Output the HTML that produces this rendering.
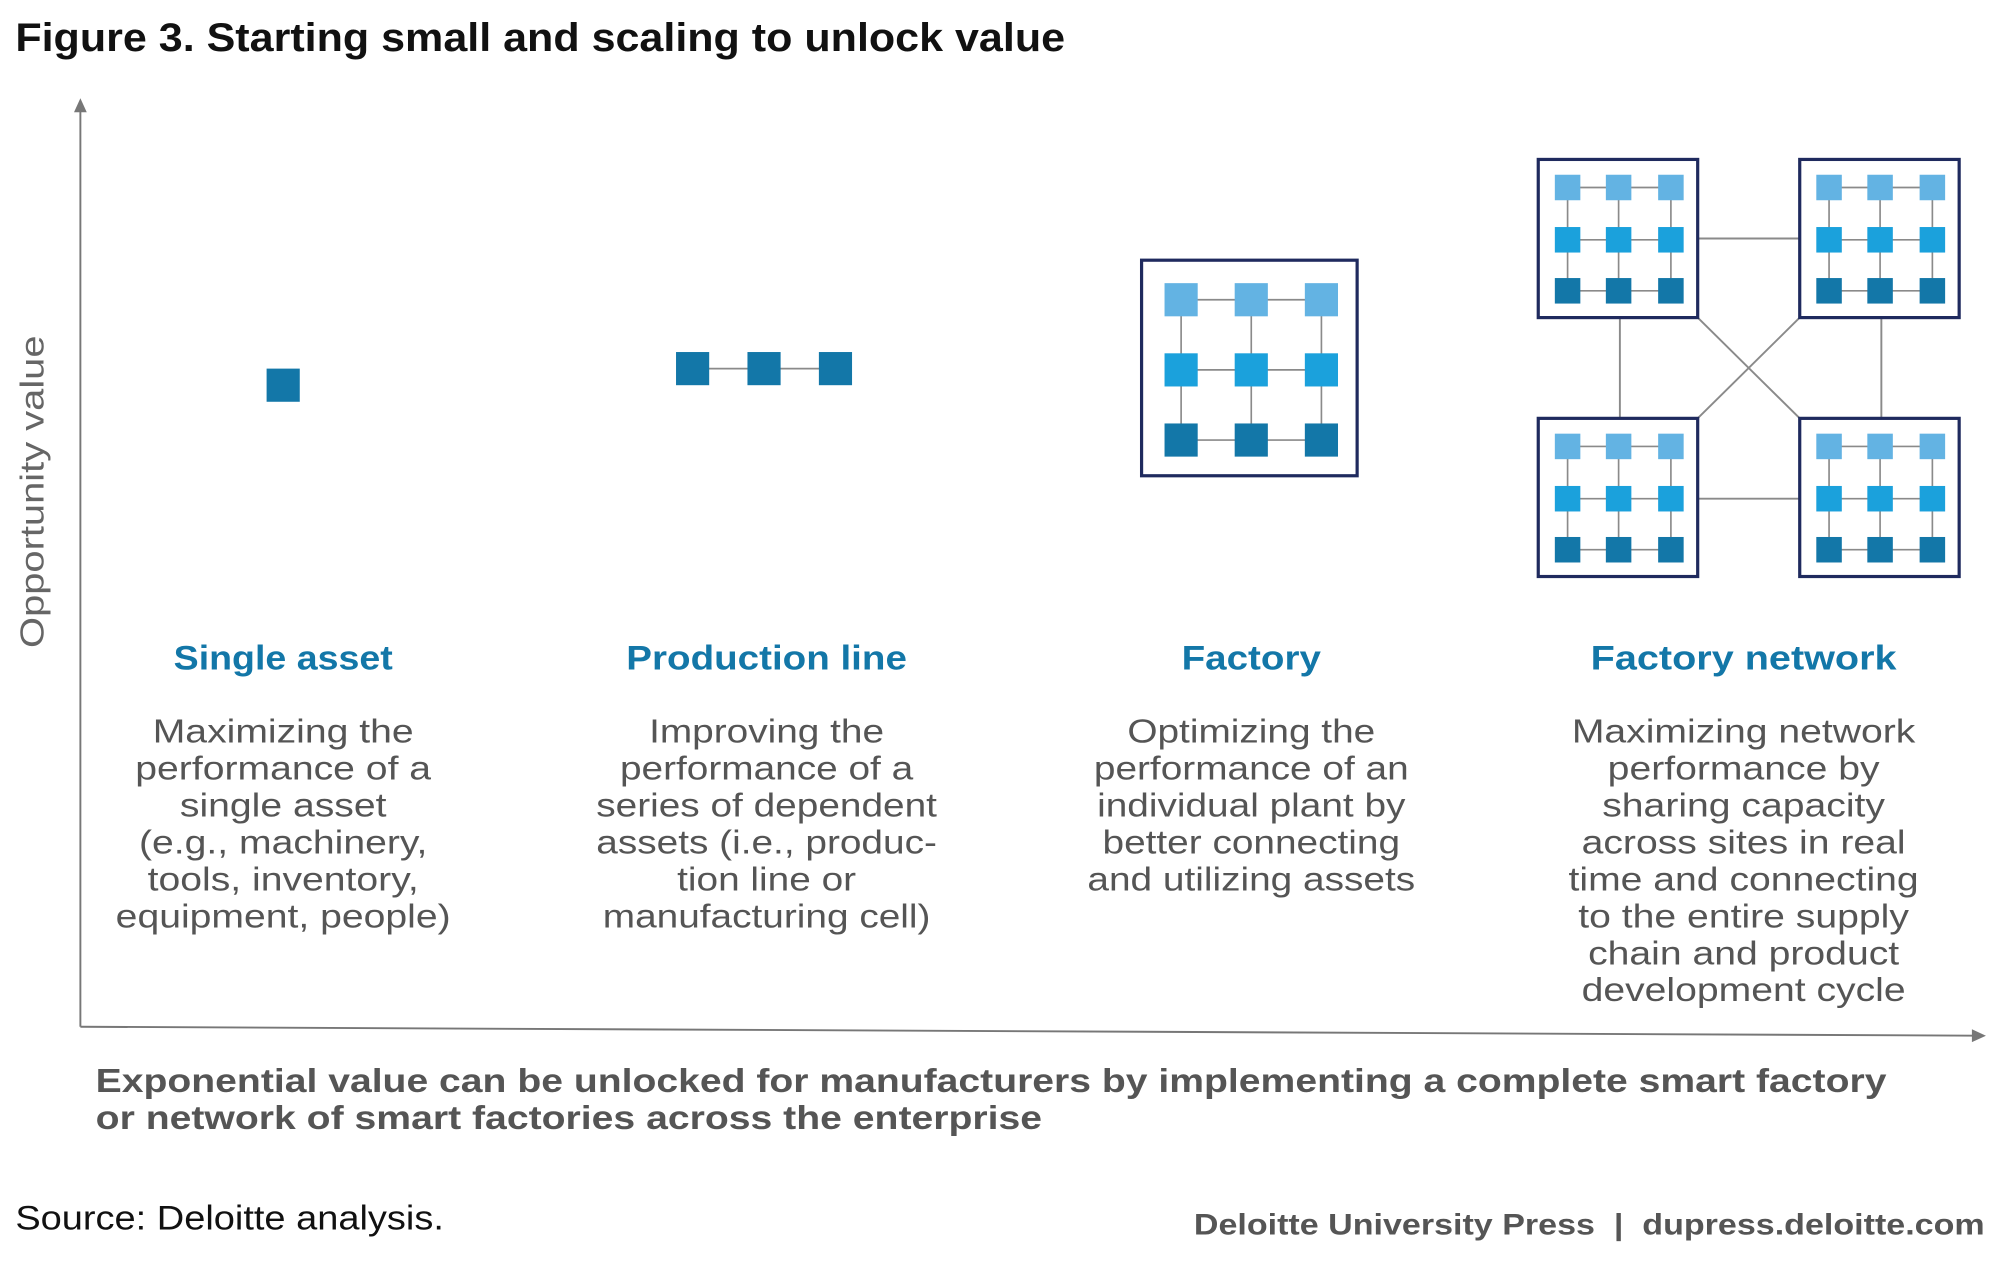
<!DOCTYPE html>
<html><head><meta charset="utf-8"><style>
html,body{margin:0;padding:0;background:#fff;}
svg{display:block;font-family:"Liberation Sans",sans-serif;}
</style></head><body>
<svg width="2000" height="1264" viewBox="0 0 1568 991" xmlns="http://www.w3.org/2000/svg">
<defs>
<g id="cell">
  <rect x="0" y="0" width="125" height="124" fill="#fff" stroke="#1f2a5e" stroke-width="2.5"/>
  <g stroke="#8a8a8a" stroke-width="1.3">
    <line x1="23" y1="22" x2="104" y2="22"/><line x1="23" y1="63" x2="104" y2="63"/><line x1="23" y1="103" x2="104" y2="103"/>
    <line x1="23" y1="22" x2="23" y2="103"/><line x1="63" y1="22" x2="63" y2="103"/><line x1="104" y1="22" x2="104" y2="103"/>
  </g>
  <g fill="#63b3e3"><rect x="13" y="12" width="20" height="20"/><rect x="53" y="12" width="20" height="20"/><rect x="94" y="12" width="20" height="20"/></g>
  <g fill="#1ba1dc"><rect x="13" y="53" width="20" height="20"/><rect x="53" y="53" width="20" height="20"/><rect x="94" y="53" width="20" height="20"/></g>
  <g fill="#1377a8"><rect x="13" y="93" width="20" height="20"/><rect x="53" y="93" width="20" height="20"/><rect x="94" y="93" width="20" height="20"/></g>
</g>
</defs>
<text x="12" y="40" font-size="31" font-weight="bold" fill="#111" textLength="823" lengthAdjust="spacingAndGlyphs">Figure 3. Starting small and scaling to unlock value</text>
<g stroke="#777" stroke-width="1.5" fill="none">
<line x1="63" y1="84" x2="63" y2="805"/>
<line x1="63" y1="805" x2="1550" y2="812"/>
</g>
<polygon points="63,77 58,88 68,88" fill="#777"/>
<polygon points="1557,812 1546,807 1546,817" fill="#777"/>
<text transform="translate(34,508) rotate(-90)" font-size="26" fill="#666" textLength="245" lengthAdjust="spacingAndGlyphs">Opportunity value</text>
<rect x="209" y="289" width="26" height="26" fill="#1377a8"/>
<line x1="543" y1="289" x2="655" y2="289" stroke="#8a8a8a" stroke-width="1.3"/>
<rect x="530" y="276" width="26" height="26" fill="#1377a8"/>
<rect x="586" y="276" width="26" height="26" fill="#1377a8"/>
<rect x="642" y="276" width="26" height="26" fill="#1377a8"/>
<rect x="895" y="204" width="169" height="169" fill="#fff" stroke="#1f2a5e" stroke-width="2.5"/>
<g stroke="#8a8a8a" stroke-width="1.3">
<line x1="926" y1="235" x2="1036" y2="235"/><line x1="926" y1="290" x2="1036" y2="290"/><line x1="926" y1="345" x2="1036" y2="345"/>
<line x1="926" y1="235" x2="926" y2="345"/><line x1="981" y1="235" x2="981" y2="345"/><line x1="1036" y1="235" x2="1036" y2="345"/>
</g>
<g fill="#63b3e3"><rect x="913" y="222" width="26" height="26"/><rect x="968" y="222" width="26" height="26"/><rect x="1023" y="222" width="26" height="26"/></g>
<g fill="#1ba1dc"><rect x="913" y="277" width="26" height="26"/><rect x="968" y="277" width="26" height="26"/><rect x="1023" y="277" width="26" height="26"/></g>
<g fill="#1377a8"><rect x="913" y="332" width="26" height="26"/><rect x="968" y="332" width="26" height="26"/><rect x="1023" y="332" width="26" height="26"/></g>
<g stroke="#8a8a8a" stroke-width="1.5">
<line x1="1331" y1="187" x2="1411" y2="187"/>
<line x1="1331" y1="391" x2="1411" y2="391"/>
<line x1="1270" y1="249" x2="1270" y2="328"/>
<line x1="1475" y1="249" x2="1475" y2="328"/>
<line x1="1331" y1="249" x2="1411" y2="328"/>
<line x1="1411" y1="249" x2="1331" y2="328"/>
</g>
<use href="#cell" x="1206" y="125"/>
<use href="#cell" x="1411" y="125"/>
<use href="#cell" x="1206" y="328"/>
<use href="#cell" x="1411" y="328"/>
<g font-size="27" font-weight="bold" fill="#1377a8" text-anchor="middle">
<g transform="translate(222,525) scale(1.09,1)"><text x="0" y="0">Single asset</text></g>
<g transform="translate(601,525) scale(1.12,1)"><text x="0" y="0">Production line</text></g>
<g transform="translate(981,525) scale(1.12,1)"><text x="0" y="0">Factory</text></g>
<g transform="translate(1367,525) scale(1.15,1)"><text x="0" y="0">Factory network</text></g>
</g>
<g font-size="26" fill="#555" text-anchor="middle">
<g transform="translate(222,0) scale(1.18,1)"><text x="0" y="582">Maximizing the</text><text x="0" y="611">performance of a</text><text x="0" y="640">single asset</text><text x="0" y="669">(e.g., machinery,</text><text x="0" y="698">tools, inventory,</text><text x="0" y="727">equipment, people)</text></g>
<g transform="translate(601,0) scale(1.17,1)"><text x="0" y="582">Improving the</text><text x="0" y="611">performance of a</text><text x="0" y="640">series of dependent</text><text x="0" y="669">assets (i.e., produc-</text><text x="0" y="698">tion line or</text><text x="0" y="727">manufacturing cell)</text></g>
<g transform="translate(981,0) scale(1.17,1)"><text x="0" y="582">Optimizing the</text><text x="0" y="611">performance of an</text><text x="0" y="640">individual plant by</text><text x="0" y="669">better connecting</text><text x="0" y="698">and utilizing assets</text></g>
<g transform="translate(1367,0) scale(1.18,1)"><text x="0" y="582">Maximizing network</text><text x="0" y="611">performance by</text><text x="0" y="640">sharing capacity</text><text x="0" y="669">across sites in real</text><text x="0" y="698">time and connecting</text><text x="0" y="727">to the entire supply</text><text x="0" y="756">chain and product</text><text x="0" y="785">development cycle</text></g>
</g>
<g font-size="26" font-weight="bold" fill="#555">
<text x="75" y="856" textLength="1404" lengthAdjust="spacingAndGlyphs">Exponential value can be unlocked for manufacturers by implementing a complete smart factory</text>
<text x="75" y="885" textLength="742" lengthAdjust="spacingAndGlyphs">or network of smart factories across the enterprise</text>
</g>
<text x="12" y="964" font-size="27" fill="#111" textLength="336" lengthAdjust="spacingAndGlyphs">Source: Deloitte analysis.</text>
<text x="936" y="968" font-size="23" font-weight="bold" fill="#555" textLength="620" lengthAdjust="spacingAndGlyphs" xml:space="preserve">Deloitte University Press  |  dupress.deloitte.com</text>
</svg>
</body></html>
